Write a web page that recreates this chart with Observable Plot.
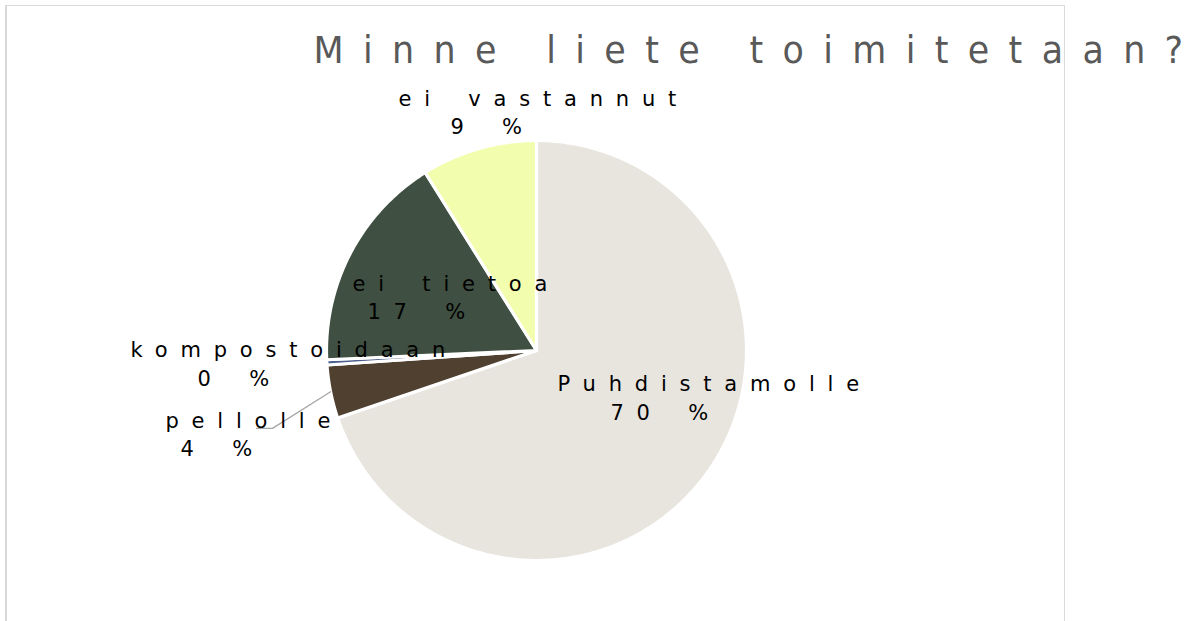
<!DOCTYPE html>
<html><head><meta charset="utf-8">
<script src="https://cdn.jsdelivr.net/npm/d3@7"></script>
<script src="https://cdn.jsdelivr.net/npm/@observablehq/plot@0.6"></script>
<style>
body{margin:0;background:#fff;}
#wrap{position:relative;width:1199px;height:621px;overflow:hidden;}
#frame{position:absolute;left:5px;top:5px;width:1057px;height:700px;border:1px solid #d9d9d9;border-left-width:2px;pointer-events:none;}
svg text{font-family:"DejaVu Sans";}
</style>
</head><body>
<div id="wrap"><div id="chart"></div><div id="frame"></div></div>
<script>
const names = ["Puhdistamolle","pellolle","kompostoidaan","ei tietoa","ei vastannut"];
const values = [69.8, 4.1, 0.4, 16.8, 8.9];
const pctLabels = ["70 %","4 %","0 %","17 %","9 %"];
const colors = ["#e8e5df","#4f4030","#4d5f8c","#3f4f41","#f2fdae"];
const title = "Minne liete toimitetaan?";

// label placement, in pie-radius units from the pie centre
const label1X = [0.100,-1.767,-1.933,-0.876,-0.657];
const label1Y = [-0.162,-0.338,0.0,0.314,1.195];
const label2X = [0.352,-1.695,-1.614,-0.805,-0.410];
const label2Y = [-0.300,-0.471,-0.138,0.181,1.062];
// leader line elbow for "pellolle"
const leaderX = [-1.257,-1.333];
const leaderY = [-0.371,-0.371];

const arcs = d3.pie().sort(null).value(d => d)(values);
const slices = [];
arcs.forEach((a, i) => {
  const n = Math.max(2, Math.ceil((a.endAngle - a.startAngle) / 0.01));
  slices.push({name: names[i], x: 0, y: 0});
  for (let k = 0; k <= n; k++) {
    const t = a.startAngle + (a.endAngle - a.startAngle) * k / n;
    slices.push({name: names[i], x: Math.sin(t), y: Math.cos(t)});
  }
  slices.push({name: names[i], x: 0, y: 0});
});

const pm = (arcs[1].startAngle + arcs[1].endAngle) / 2;
const leader = [{x: Math.sin(pm), y: Math.cos(pm)}, {x: leaderX[0], y: leaderY[0]}, {x: leaderX[1], y: leaderY[1]}];

const labels = names.map((name, i) => ({name, pct: pctLabels[i], x1: label1X[i], y1: label1Y[i], x2: label2X[i], y2: label2Y[i]}));

const chart = Plot.plot({
  width: 1199, height: 621, margin: 0,
  x: {domain: [-1, 1], range: [326, 746], axis: null},
  y: {domain: [-1, 1], range: [560, 140], axis: null},
  color: {domain: names, range: colors},
  style: {fontFamily: "DejaVu Sans", background: "transparent", overflow: "visible"},
  marks: [
    Plot.line(slices, {x: "x", y: "y", z: "name", fill: "name", stroke: "white", strokeWidth: 3.2, strokeLinejoin: "round", curve: "linear"}),
    Plot.line(leader, {x: "x", y: "y", stroke: "#a6a6a6", strokeWidth: 1.3}),
    Plot.text(labels, {x: "x1", y: "y1", text: "name", textAnchor: "start", fontSize: 21, fill: "black"}),
    Plot.text(labels, {x: "x2", y: "y2", text: "pct", textAnchor: "start", fontSize: 21, fill: "black"}),
    Plot.text([title], {frameAnchor: "top-left", dx: 313, dy: 51, lineAnchor: "middle", text: d => d, textAnchor: "start", fontSize: 37, fill: "#595959"})
  ]
});
const tg = d3.select(chart).selectAll('g[aria-label="text"]').nodes();
d3.select(tg[0]).selectAll("text").style("letter-spacing", "12.8px").style("word-spacing", "6px");
d3.select(tg[1]).selectAll("text").style("letter-spacing", "12.8px").style("word-spacing", "6px");
d3.select(tg[2]).selectAll("text")
  .style("letter-spacing", "20.5px")
  .attr("textLength", 889)
  .attr("lengthAdjust", "spacingAndGlyphs");
document.getElementById("chart").appendChild(chart);
</script>
</body></html>
